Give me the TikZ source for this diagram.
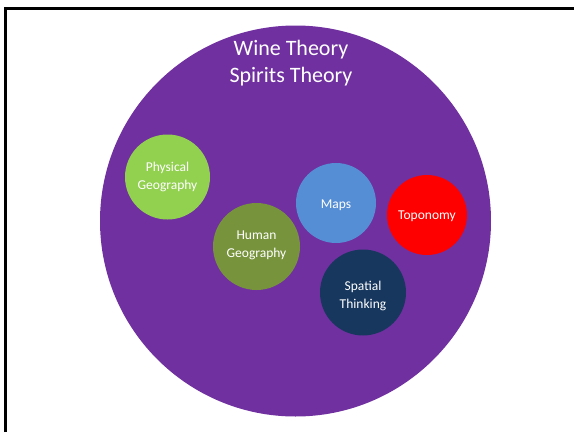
\documentclass[tikz,border=0pt]{standalone}
\usepackage{fontspec}
\setmainfont{Carlito}
\definecolor{bigpurple}{HTML}{7030A0}
\definecolor{lgreen}{HTML}{92D050}
\definecolor{olive}{HTML}{77933C}
\definecolor{mapblue}{HTML}{558ED5}
\definecolor{navy}{HTML}{17375E}
\begin{document}
\begin{tikzpicture}[x=1pt,y=-1pt,
  blob/.style={circle,inner sep=0pt},
  lbl/.style={text=white,align=center,inner sep=0pt,font=\fontsize{13.5}{18}\selectfont},
  ttl/.style={text=white,align=center,font=\fontsize{22}{27}\selectfont}]
\useasboundingbox (0,0) rectangle (574,432);
\draw[line width=3pt] (5,432) -- (5,8) -- (574,8);
\node[circle,fill=bigpurple,minimum size=391pt,inner sep=0pt] (big) at (295.5,221) {};
\node[ttl] (title) at (291,63.5) {Wine Theory\\Spirits Theory};
\node[blob,fill=lgreen,minimum size=85pt,label={[lbl,yshift=0.5pt]center:Physical\\Geography}] (phys) at (167.5,177) {};
\node[blob,fill=olive,minimum size=87pt,label={[lbl,yshift=1pt]center:Human\\Geography}] (hum) at (256.5,246.5) {};
\node[blob,fill=mapblue,minimum size=80pt,label={[lbl,yshift=-2pt]center:Maps}] (maps) at (336,203) {};
\node[blob,fill=red,minimum size=80pt,label={[lbl,yshift=-1.5pt]center:Toponomy}] (topo) at (427,215) {};
\node[blob,fill=navy,minimum size=86pt,label={[lbl,yshift=-3.5pt]center:Spatial\\Thinking}] (spat) at (363,292.5) {};
\end{tikzpicture}
\end{document}
